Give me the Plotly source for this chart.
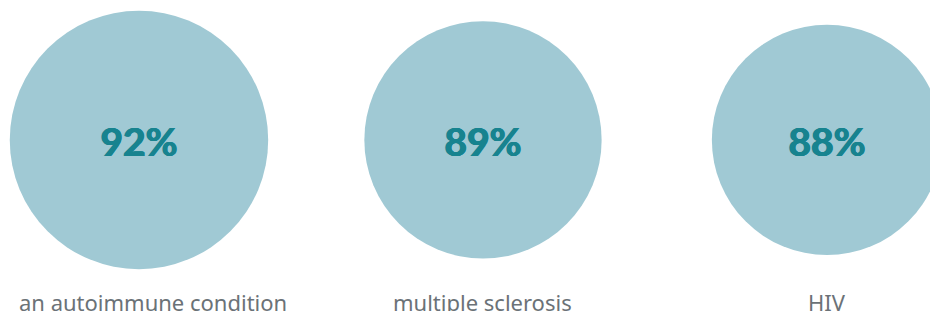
import plotly.graph_objects as go

# ---- data ----
categories = ["an autoimmune condition", "multiple sclerosis", "HIV"]
values = [92, 89, 88]
value_labels = [f"{v}%" for v in values]

# ---- styles ----
CIRCLE_COLOR = "#a0c9d4"
VALUE_COLOR = "#17838f"
LABEL_COLOR = "#6b7277"

# diameter scale (px) from value
mean_v = sum(values) / len(values)
sizes = [242 + 7.04 * (v - mean_v) for v in values]

fig = go.Figure()
fig.add_trace(go.Scatter(
    x=categories,
    y=[0] * len(categories),
    mode="markers",
    marker=dict(size=sizes, sizemode="diameter", color=CIRCLE_COLOR,
                line=dict(width=0), opacity=1),
    hoverinfo="skip",
    cliponaxis=True,
))
fig.add_trace(go.Scatter(
    x=categories,
    y=[-0.04] * len(categories),
    mode="text",
    text=value_labels,
    textposition="middle center",
    textfont=dict(family="Lato", size=39, color=VALUE_COLOR, weight="bold",
                  shadow=f"0.7px 0 0 {VALUE_COLOR}, -0.7px 0 0 {VALUE_COLOR}, 0 0.5px 0 {VALUE_COLOR}"),
    hoverinfo="skip",
))

label_shift = [14, 0, 0]
for cat, sh in zip(categories, label_shift):
    fig.add_annotation(
        x=cat, y=-1.042, xref="x", yref="y",
        text=cat, showarrow=False,
        xanchor="center", yanchor="middle", xshift=sh,
        font=dict(family="Noto Sans", size=22, color=LABEL_COLOR),
    )

fig.update_layout(
    width=930, height=311,
    margin=dict(l=0, r=0, t=0, b=0),
    paper_bgcolor="white", plot_bgcolor="white",
    showlegend=False,
    xaxis=dict(type="category", range=[-0.404, 2.2994], visible=False,
               fixedrange=True),
    yaxis=dict(range=[-1.1, 0.9], visible=False, fixedrange=True),
)

fig.write_html(
    "out.html",
    config={"displayModeBar": False},
    post_script="document.body.style.margin='0';document.body.style.overflow='hidden';",
)
